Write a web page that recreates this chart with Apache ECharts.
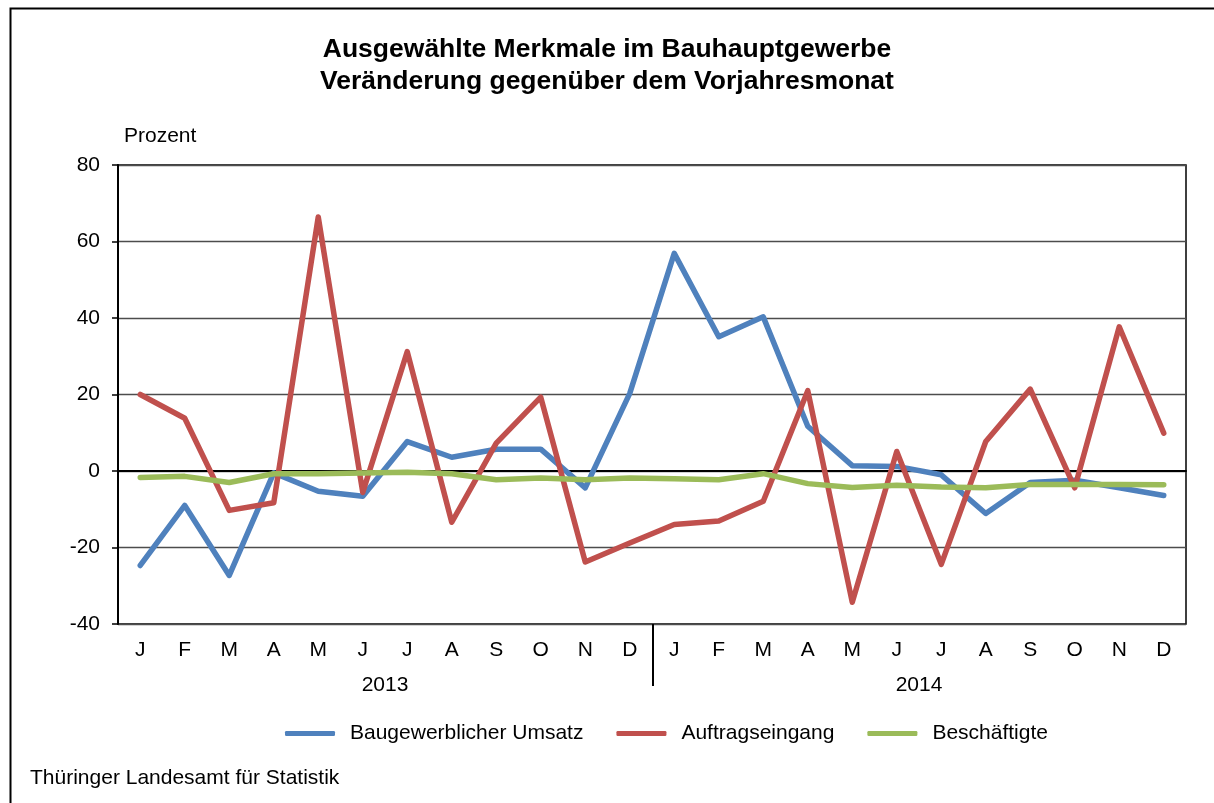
<!DOCTYPE html>
<html>
<head>
<meta charset="utf-8">
<script src="https://cdn.jsdelivr.net/npm/echarts@6/dist/echarts.min.js"></script>
<style>
html,body{margin:0;padding:0;background:#fff;}
#chart{width:1214px;height:803px;}
</style>
</head>
<body>
<div id="chart"></div>
<script>
const months = ['J','F','M','A','M','J','J','A','S','O','N','D','J','F','M','A','M','J','J','A','S','O','N','D'];
const years = ['2013','2014'];
const umsatz = [-24.7,-9.0,-27.3,-0.5,-5.3,-6.6,7.7,3.6,5.7,5.7,-4.4,20.3,56.9,35.1,40.3,11.7,1.4,1.2,-1.0,-11.1,-3.0,-2.4,-4.4,-6.4];
const auftrag = [20.0,13.8,-10.3,-8.3,66.4,-5.6,31.2,-13.4,7.3,19.3,-23.8,-18.8,-14.0,-13.1,-7.9,21.0,-34.3,5.1,-24.4,7.7,21.4,-4.4,37.7,9.9];
const beschaeft = [-1.7,-1.4,-3.0,-0.7,-0.7,-0.5,-0.3,-0.7,-2.3,-1.8,-2.3,-1.8,-2.0,-2.3,-0.7,-3.3,-4.3,-3.7,-4.2,-4.4,-3.5,-3.5,-3.5,-3.6];
const seriesNames = ['Baugewerblicher Umsatz','Auftragseingang','Beschäftigte'];
const colors = ['#4F81BD','#C0504D','#9BBB59'];

const font = '"Liberation Sans", Arial, sans-serif';
const fs = 21;
const chart = echarts.init(document.getElementById('chart'));
const mkSeries = (name, data, color) => ({
  name, type:'line', data, symbol:'none', smooth:false,
  lineStyle:{color, width:5.5, cap:'round', join:'round'},
  itemStyle:{color}, xAxisIndex:0, yAxisIndex:0
});
chart.setOption({
  animation:false,
  backgroundColor:'#ffffff',
  textStyle:{fontFamily:font},
  title:[{
    text:'Ausgewählte Merkmale im Bauhauptgewerbe\nVeränderung gegenüber dem Vorjahresmonat',
    left:'center', top:34, padding:0,
    textStyle:{fontFamily:font, fontSize:26.5, fontWeight:'bold', color:'#000', lineHeight:32}
  },{
    text:'Thüringer Landesamt für Statistik',
    left:30, top:766, padding:0,
    textStyle:{fontFamily:font, fontSize:fs, fontWeight:'normal', color:'#000', lineHeight:24}
  }],
  legend:{
    data:seriesNames, top:718, left:280,
    itemWidth:50, itemHeight:5, itemGap:33,
    icon:'roundRect',
    textStyle:{fontFamily:font, fontSize:fs, color:'#000', padding:[0,0,0,10]}
  },
  grid:{left:118, right:28, top:165, bottom:179, show:true, borderColor:'#000', borderWidth:1.5, containLabel:false},
  xAxis:[{
    type:'category', data:months, boundaryGap:true,
    axisLine:{show:true, lineStyle:{color:'#000', width:2}},
    axisTick:{show:false},
    axisLabel:{fontFamily:font, fontSize:fs, color:'#000', margin:16, interval:0},
    splitLine:{show:false}
  },{
    type:'category', data:years, boundaryGap:true, position:'bottom',
    axisLine:{show:false},
    axisTick:{show:false},
    axisLabel:{fontFamily:font, fontSize:fs, color:'#000', margin:51, interval:0},
    splitLine:{show:false}
  }],
  yAxis:{
    type:'value', min:-40, max:80, interval:20,
    name:'Prozent', nameLocation:'end', nameGap:18,
    nameTextStyle:{fontFamily:font, fontSize:fs, color:'#000', align:'left', padding:[0,0,0,6]},
    axisLine:{show:true, lineStyle:{color:'#000', width:2}},
    axisTick:{show:true, length:6, lineStyle:{color:'#000', width:1.5}},
    axisLabel:{fontFamily:font, fontSize:fs, color:'#000', margin:18},
    splitLine:{show:true, lineStyle:{color:'#4d4d4d', width:1.3}}
  },
  series:[
    mkSeries(seriesNames[0], umsatz, colors[0]),
    mkSeries(seriesNames[1], auftrag, colors[1]),
    mkSeries(seriesNames[2], beschaeft, colors[2])
  ]
});
// year separator between the two year groups, positioned through the axis scales
const xa = chart.convertToPixel({xAxisIndex:0}, 11);
const xb = chart.convertToPixel({xAxisIndex:0}, 12);
const yb = chart.convertToPixel({yAxisIndex:0}, -40);
const xs = Math.round((xa + xb) / 2) + 1;
chart.setOption({
  graphic:[{
    type:'rect', left:8, top:6, shape:{width:1220, height:810},
    style:{fill:'none', stroke:'#000', lineWidth:2}, silent:true
  },{
    type:'line', shape:{x1:xs, y1:yb, x2:xs, y2:yb + 62},
    style:{stroke:'#000', lineWidth:2}, silent:true
  }]
});
</script>
</body>
</html>
